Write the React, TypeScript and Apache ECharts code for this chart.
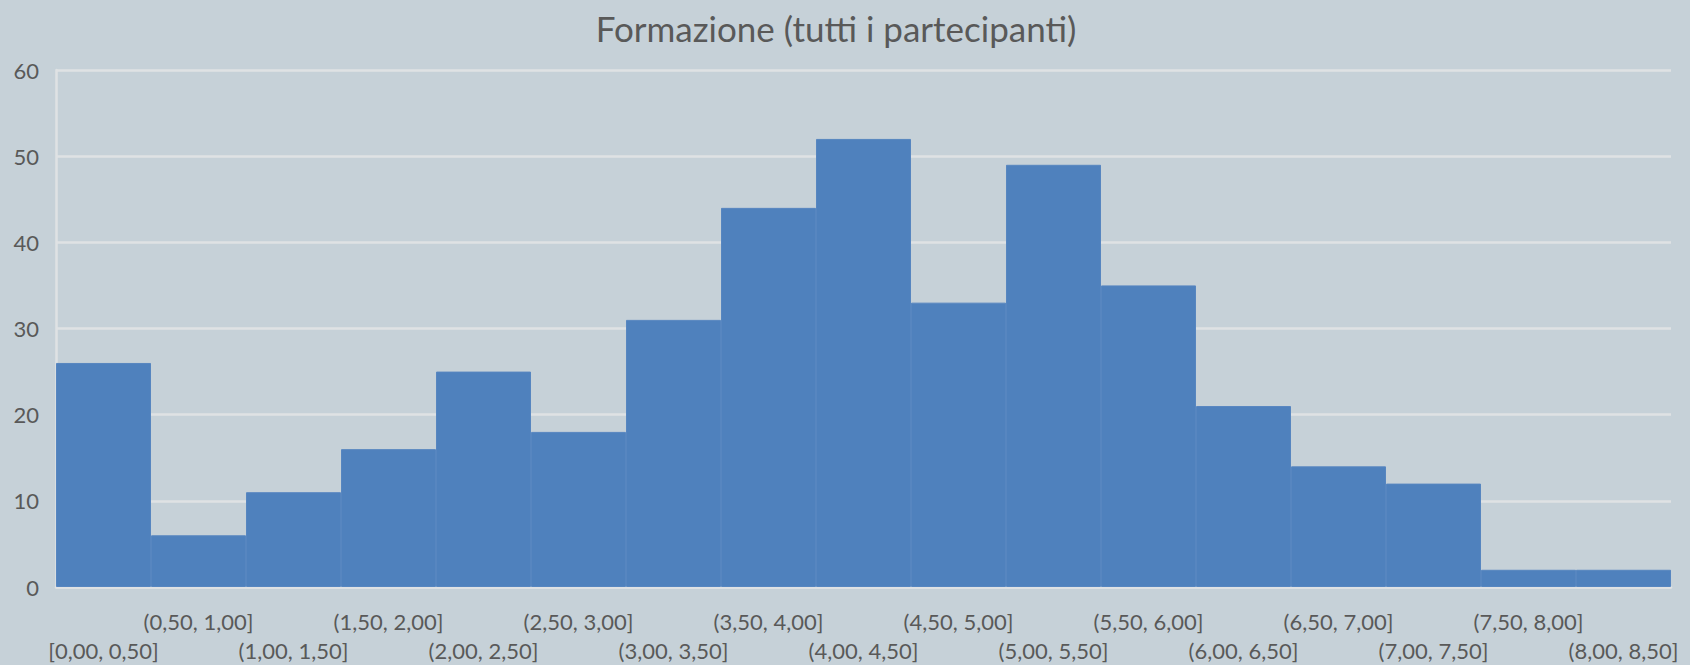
import React, { useEffect, useRef } from "react";
import * as echarts from "echarts";

const titleText = "Formazione (tutti i partecipanti)";
const categories = [
  "[0,00, 0,50]", "(0,50, 1,00]", "(1,00, 1,50]", "(1,50, 2,00]", "(2,00, 2,50]",
  "(2,50, 3,00]", "(3,00, 3,50]", "(3,50, 4,00]", "(4,00, 4,50]", "(4,50, 5,00]",
  "(5,00, 5,50]", "(5,50, 6,00]", "(6,00, 6,50]", "(6,50, 7,00]", "(7,00, 7,50]",
  "(7,50, 8,00]", "(8,00, 8,50]",
];
const counts = [26, 6, 11, 16, 25, 18, 31, 44, 52, 33, 49, 35, 21, 14, 12, 2, 2];
const yMin = 0;
const yMax = 60;
const yStep = 10;

const FONT = "Lato";
const TEXT = "#595959";

export default function App() {
  const ref = useRef<HTMLDivElement>(null);
  useEffect(() => {
    document.body.style.margin = "0";
    if (!ref.current) return;
    const chart = echarts.init(ref.current, null, { renderer: "svg" });
    chart.setOption({
      animation: false,
      backgroundColor: "#c6d1d8",
      title: {
        text: titleText,
        left: 831,
        textAlign: "center",
        top: 5,
        textStyle: { fontFamily: FONT, fontSize: 35, fontWeight: "normal", color: TEXT },
      },
      grid: { left: 56, right: 19, top: 70, bottom: 77, containLabel: false },
      xAxis: {
        type: "category",
        data: categories,
        boundaryGap: true,
        axisLine: { show: true, lineStyle: { color: "#dfe2e4", width: 2.5 } },
        axisTick: { show: false },
        axisLabel: {
          interval: 0,
          margin: 20,
          fontFamily: FONT,
          fontSize: 22,
          color: TEXT,
          lineHeight: 29,
          verticalAlign: "top",
          formatter: (v: string, i: number) => (i % 2 === 0 ? "\n" + v : v),
        },
      },
      yAxis: {
        type: "value",
        min: yMin,
        max: yMax,
        interval: yStep,
        axisLine: { show: true, lineStyle: { color: "#dfe2e4", width: 2.5 } },
        axisTick: { show: false },
        splitLine: { show: true, lineStyle: { color: "#dfe2e4", width: 2.5 } },
        axisLabel: { margin: 17, fontFamily: FONT, fontSize: 22, color: TEXT },
      },
      series: [
        {
          type: "bar",
          data: counts,
          barCategoryGap: "0%",
          itemStyle: { color: "#4f81bd", borderColor: "#5786c0", borderWidth: 1 },
        },
      ],
    });
    return () => chart.dispose();
  }, []);
  return <div ref={ref} style={{ width: 1690, height: 665 }} />;
}
